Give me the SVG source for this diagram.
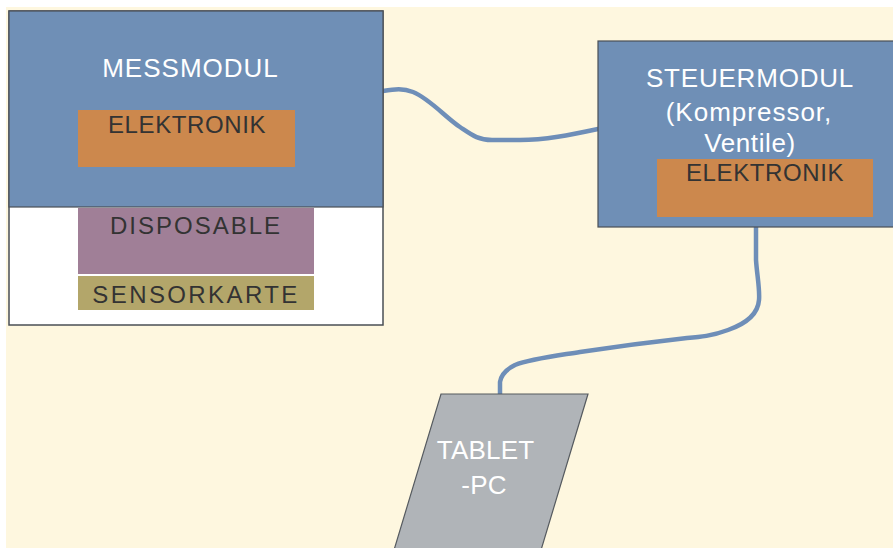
<svg xmlns="http://www.w3.org/2000/svg" width="893" height="548" viewBox="0 0 893 548">
  <style>
    .blue { fill: #6F8FB6; stroke: #4A4F55; stroke-width: 1.2; }
    .orange { fill: #CC884D; }
    .wtxt { font-family: "Liberation Sans", Arial, sans-serif; fill: #FFFFFF; font-size: 26px; text-anchor: middle; }
    .dtxt { font-family: "Liberation Sans", Arial, sans-serif; fill: #333333; font-size: 24px; text-anchor: middle; }
    .wire { fill: none; stroke: #6E8EB8; stroke-width: 4.5; stroke-linecap: round; }
  </style>
  <rect x="0" y="0" width="893" height="548" fill="#FFFFFF"/>
  <rect x="6" y="7" width="887" height="541" fill="#FEF7DF"/>

  <g id="connectors">
    <path class="wire" d="M383,91 C395,89 403,88 413,92 C430,99 445,117 460,127 C472,135 478,140 492,140 L520,140 C545,140 570,135 598,129"/>
    <path class="wire" d="M756,227 L756,260 C757,275 760,290 759,300 C758,314 745,324 728,330 C712,336 700,337 687,338 C660,341 620,346 580,352 C555,356 530,359 515,365 C505,370 501,375 500,382 L500,394"/>
  </g>

  <g id="messmodul">
    <rect x="9" y="11" width="374" height="314" fill="#FFFFFF" stroke="#4A4F55" stroke-width="1.5"/>
    <rect class="blue" x="9" y="11" width="374" height="196"/>
    <text class="wtxt" x="190.5" y="77" letter-spacing="1">MESSMODUL</text>
  </g>
  <g id="elektronik-mess">
    <rect class="orange" x="78" y="110" width="217" height="57"/>
    <text class="dtxt" x="187" y="133" font-size="23" letter-spacing="0.6">ELEKTRONIK</text>
  </g>
  <g id="disposable">
    <rect x="78" y="208" width="236" height="66" fill="#A07F97"/>
    <text class="dtxt" x="196" y="234" letter-spacing="2">DISPOSABLE</text>
  </g>
  <g id="sensorkarte">
    <rect x="78" y="276" width="236" height="34" fill="#B3A66A"/>
    <text class="dtxt" x="196" y="303" letter-spacing="2.4">SENSORKARTE</text>
  </g>

  <g id="steuermodul">
    <rect class="blue" x="598" y="41" width="300" height="186"/>
    <text class="wtxt" x="750" y="87" letter-spacing="0.8">STEUERMODUL</text>
    <text class="wtxt" x="749" y="121" letter-spacing="1">(Kompressor,</text>
    <text class="wtxt" x="750" y="152" letter-spacing="0.6">Ventile)</text>
  </g>
  <g id="elektronik-steuer">
    <rect class="orange" x="657" y="159" width="216" height="58"/>
    <text class="dtxt" x="765" y="181" font-size="23" letter-spacing="0.6">ELEKTRONIK</text>
  </g>

  <g id="tablet">
    <polygon points="441,394 588,394 535,570 388,570" fill="#B0B4B8" stroke="#555A5F" stroke-width="1.2"/>
    <text class="wtxt" x="485.5" y="459" letter-spacing="0.2">TABLET</text>
    <text class="wtxt" x="484" y="494" letter-spacing="0.2">-PC</text>
  </g>
</svg>
